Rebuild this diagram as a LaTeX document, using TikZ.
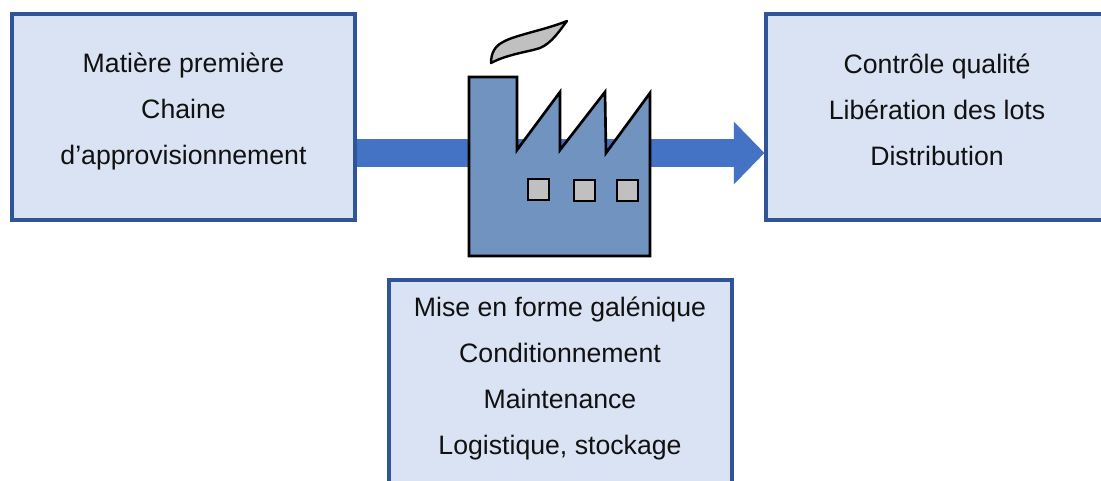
\documentclass[tikz,border=0pt]{standalone}
\usepackage{fontspec}
\setmainfont{Liberation Sans}
\usetikzlibrary{arrows.meta}
\definecolor{boxfill}{HTML}{DAE3F3}
\definecolor{boxline}{HTML}{2F5597}
\definecolor{arrowblue}{HTML}{4472C4}
\definecolor{factoryblue}{HTML}{7093BF}
\definecolor{lightgrey}{HTML}{C0C0C0}
\definecolor{textblack}{HTML}{111111}
\tikzset{
  x=0.75pt,y=-0.75pt,
  infobox/.style={draw=boxline,fill=boxfill,line width=2.3pt,rectangle,inner sep=0pt},
  infotext/.style={align=center,inner sep=0pt,text=textblack,font=\fontsize{20}{34.5}\selectfont},
  flow/.style={draw=arrowblue,line width=21pt,-{Triangle[length=23pt,width=45.75pt]}},
  bldg/.style={draw=black,line width=2pt,line join=miter,fill=factoryblue},
  pane/.style={draw=black,line width=2pt,fill=lightgrey},
  smoke/.style={draw=black,line width=1.8pt,line join=round,fill=lightgrey}
}
\begin{document}
\begin{tikzpicture}
\path[use as bounding box,clip] (0,0) rectangle (1101,481);
\fill[white] (0,0) rectangle (1101,481);
% boxes
\node[infobox,minimum width=257.25pt,minimum height=154.5pt] (left) at (183.5,117) {};
\node[infobox,minimum width=255pt,minimum height=154.5pt] (right) at (936,117) {};
\node[infobox,minimum width=257.25pt,minimum height=180pt] (bottom) at (560.5,400) {};
% connector, running behind the factory
\coordinate (flowstart) at (left.east |- 0,153);
\coordinate (flowend) at (right.west |- 0,153);
\draw[flow] (flowstart) -- (flowend);
% factory
\draw[bldg] (469,77) -- (517,77) -- (517,150) -- (560,92) -- (560,150) -- (605,92) -- (606,153) -- (650,93) -- (650,256) -- (469,256) -- cycle;
\draw[pane] (528,179) rectangle (549,200);
\draw[pane] (574,180) rectangle (595,201);
\draw[pane] (617,180) rectangle (638,201);
\draw[smoke] (491,63) .. controls (491,53) and (495,46) .. (503,42)
  .. controls (515,35) and (545,30) .. (567,21)
  .. controls (560,30) and (552,43) .. (540,48)
  .. controls (528,52) and (508,54) .. (491,63) -- cycle;
% texts
\node[infotext] (lefttext) at (183.5,111) {Matière première\\Chaine\\d’approvisionnement};
\node[infotext] (righttext) at (937,109.5) {Contrôle qualité\\Libération des lots\\Distribution};
\node[infotext] (bottomtext) at (560,378) {Mise en forme galénique\\Conditionnement\\Maintenance\\Logistique, stockage};
\end{tikzpicture}
\end{document}
